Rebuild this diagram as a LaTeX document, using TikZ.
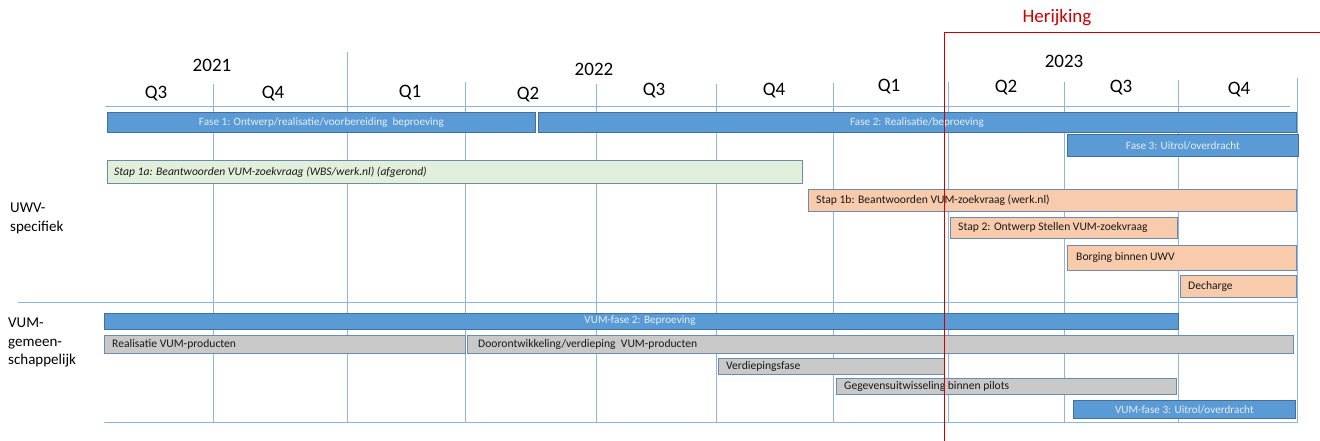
\documentclass[tikz,border=0pt]{standalone}
\usepackage{fontspec}
\setmainfont{Carlito}
\definecolor{barblue}{HTML}{5B9BD5}
\definecolor{barblueedge}{HTML}{41719C}
\definecolor{gridblue}{HTML}{8EB4E3}
\definecolor{orangefill}{HTML}{F8CBAD}
\definecolor{greenfill}{HTML}{E2EFDA}
\definecolor{greyfill}{HTML}{C9C9C9}
\definecolor{edgegrey}{HTML}{6A8CB0}
\definecolor{herred}{HTML}{D00000}
\definecolor{lighttxt}{HTML}{E3EEF8}
\begin{document}
\begin{tikzpicture}[x=1pt,y=-1pt,
  gridline/.style={draw=gridblue, line width=0.8pt},
  barbase/.style={rectangle, inner sep=0pt, anchor=north west, line width=0.8pt},
  bluebar/.style={barbase, fill=barblue, draw=barblueedge},
  orangebar/.style={barbase, fill=orangefill, draw=edgegrey},
  greenbar/.style={barbase, fill=greenfill, draw=edgegrey},
  greybar/.style={barbase, fill=greyfill, draw=edgegrey},
  lighttext/.style={text=lighttxt, font=\fontsize{11.2}{13}\selectfont, inner sep=0pt},
  darktext/.style={text=black!90, font=\fontsize{11.6}{13}\selectfont, inner sep=0pt, anchor=west},
  quarter/.style={font=\fontsize{19}{21}\selectfont, inner sep=0pt},
  year/.style={font=\fontsize{19}{21}\selectfont, inner sep=0pt},
  sidelabel/.style={font=\fontsize{15}{18.5}\selectfont, inner sep=0pt, anchor=north west, align=left}
]
\useasboundingbox (0,0) rectangle (1320,441);

% grid lines
\draw[gridline] (213,84) -- (213,423);
\draw[gridline] (347,52) -- (347,423);
\draw[gridline] (465,82) -- (465,423);
\draw[gridline] (596,84) -- (596,423);
\draw[gridline] (716,84) -- (716,423);
\draw[gridline] (833,83) -- (833,423);
\draw[gridline] (948,82) -- (948,423);
\draw[gridline] (1064,82) -- (1064,423);
\draw[gridline] (1178,80) -- (1178,423);
\draw[gridline] (1297,78) -- (1297,423);
\draw[gridline] (105,106.5) -- (1290,106.5);
\draw[gridline] (18,302) -- (1297,302);
\draw[gridline] (104,422) -- (1297,422);

% years and quarters
\node[year] (y21) at (212,65) {2021};
\node[year] (y22) at (594,69) {2022};
\node[year] (y23) at (1064,61) {2023};
\node[quarter] (q1) at (156,94) {Q3};
\node[quarter] (q2) at (273,94) {Q4};
\node[quarter] (q3) at (410,93) {Q1};
\node[quarter] (q4) at (528,95) {Q2};
\node[quarter] (q5) at (654,91) {Q3};
\node[quarter] (q6) at (774,91) {Q4};
\node[quarter] (q7) at (889,87) {Q1};
\node[quarter] (q8) at (1006,88) {Q2};
\node[quarter] (q9) at (1121,88) {Q3};
\node[quarter] (q10) at (1239,90) {Q4};

% side labels
\node[sidelabel] (uwv) at (10,203) {UWV-\\specifiek};
\node[sidelabel] (vum) at (8,318) {VUM-\\gemeen-\\schappelijk};

% UWV bars
\node[bluebar, minimum width=428, minimum height=20] (f1) at (107,112) {};
\node[lighttext] at (f1.center) {Fase 1: Ontwerp/realisatie/voorbereiding\ \ beproeving};
\node[bluebar, minimum width=758, minimum height=20] (f2) at (538,112) {};
\node[lighttext] at (917,123) {Fase 2: Realisatie/beproeving};
\node[bluebar, minimum width=231, minimum height=22] (f3) at (1067,134) {};
\node[lighttext] at (f3.center) {Fase 3: Uitrol/overdracht};
\node[greenbar, minimum width=695, minimum height=23] (s1a) at (107,160) {};
\node[darktext] at ([xshift=7]s1a.west) {\itshape Stap 1a: Beantwoorden VUM-zoekvraag (WBS/werk.nl) (afgerond)};
\node[orangebar, minimum width=488, minimum height=22] (s1b) at (808,189) {};
\node[darktext] at ([xshift=8]s1b.west) {Stap 1b: Beantwoorden VUM-zoekvraag (werk.nl)};
\node[orangebar, minimum width=227, minimum height=21] (s2) at (950,217) {};
\node[darktext] at ([xshift=8]s2.west) {Stap 2: Ontwerp Stellen VUM-zoekvraag};
\node[orangebar, minimum width=229, minimum height=25] (bo) at (1067,245) {};
\node[darktext] at ([xshift=9]bo.west) {Borging binnen UWV};
\node[orangebar, minimum width=116, minimum height=22] (de) at (1180,275) {};
\node[darktext] at ([xshift=8]de.west) {Decharge};

% VUM bars
\node[bluebar, minimum width=1074, minimum height=16] (v2) at (104,313) {};
\node[lighttext] at (640,321) {VUM-fase 2: Beproeving};
\node[greybar, minimum width=361, minimum height=18] (rv) at (104,335) {};
\node[darktext] at ([xshift=8]rv.west) {Realisatie VUM-producten};
\node[greybar, minimum width=826, minimum height=18] (dv) at (467,335) {};
\node[darktext] at ([xshift=11]dv.west) {Doorontwikkeling/verdieping\ \ VUM-producten};
\node[greybar, minimum width=226, minimum height=16] (vf) at (718,358) {};
\node[darktext] at ([xshift=8]vf.west) {Verdiepingsfase};
\node[greybar, minimum width=340, minimum height=16] (gu) at (836,378) {};
\node[darktext] at ([xshift=8]gu.west) {Gegevensuitwisseling binnen pilots};
\node[bluebar, minimum width=222, minimum height=18] (v3) at (1073,400) {};
\node[lighttext] at (v3.center) {VUM-fase 3: Uitrol/overdracht};

% Herijking
\coordinate (hc) at (944,32);
\coordinate (hr) at (1320,32);
\coordinate (hb) at (944,441);
\draw[herred, line width=0.8pt] (hr) -- (hc) -- (hb);
\node[text=herred, font=\fontsize{19}{21}\selectfont, inner sep=0pt] (her) at (1057,18) {Herijking};
\end{tikzpicture}
\end{document}
